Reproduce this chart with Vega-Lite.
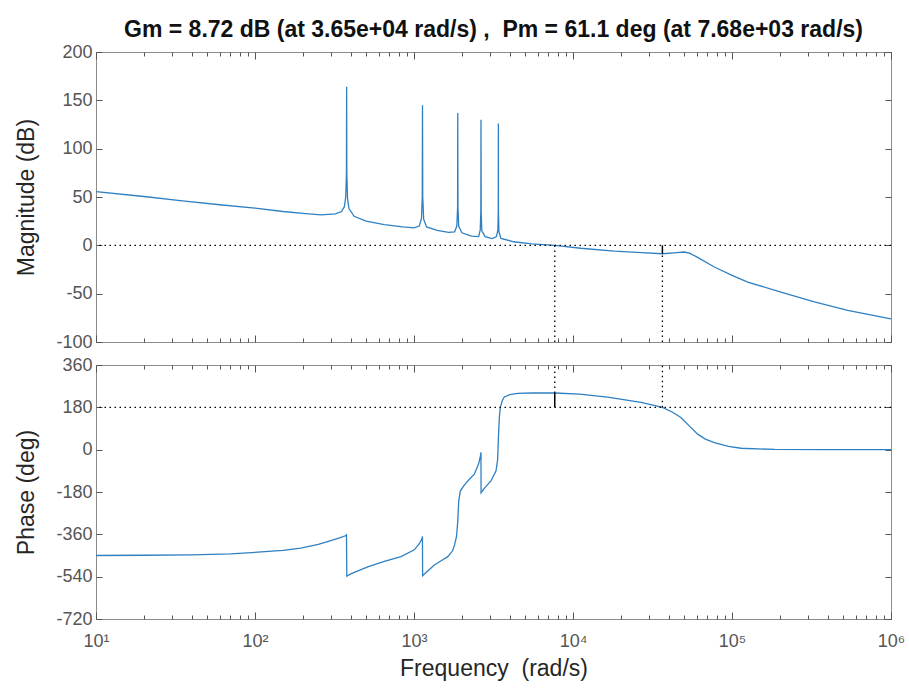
{
  "$schema": "https://vega.github.io/schema/vega-lite/v6.json",
  "background": "white",
  "padding": {"left": 15, "top": 18, "right": 5, "bottom": 5},
  "spacing": 3,
  "config": {
    "font": "Liberation Sans",
    "view": {"stroke": "#8c8c8c", "strokeWidth": 1},
    "axis": {
      "domain": false,
      "grid": false,
      "tickColor": "#555555",
      "tickWidth": 1,
      "labelColor": "#555555",
      "labelFont": "Liberation Sans",
      "labelFontSize": 18,
      "titleFont": "Liberation Sans",
      "titleFontSize": 23,
      "titleFontWeight": "normal",
      "titleColor": "#262626"
    }
  },
  "datasets": {
    "magnitude": [
      {"w": 10, "mag": 55.5}, {"w": 20, "mag": 50.5}, {"w": 35, "mag": 46}, {"w": 60, "mag": 42},
      {"w": 100, "mag": 38.5}, {"w": 150, "mag": 35}, {"w": 200, "mag": 33}, {"w": 260, "mag": 31.5},
      {"w": 320, "mag": 32.5}, {"w": 350, "mag": 35}, {"w": 365, "mag": 40}, {"w": 372, "mag": 50},
      {"w": 376, "mag": 75}, {"w": 377, "mag": 164}, {"w": 378, "mag": 75}, {"w": 382, "mag": 48},
      {"w": 390, "mag": 38}, {"w": 420, "mag": 30}, {"w": 500, "mag": 25}, {"w": 650, "mag": 21.5},
      {"w": 850, "mag": 19}, {"w": 1000, "mag": 18}, {"w": 1080, "mag": 20}, {"w": 1115, "mag": 28},
      {"w": 1127, "mag": 50}, {"w": 1131, "mag": 145}, {"w": 1135, "mag": 50}, {"w": 1150, "mag": 27},
      {"w": 1200, "mag": 19}, {"w": 1400, "mag": 15.5}, {"w": 1650, "mag": 13.5}, {"w": 1800, "mag": 14},
      {"w": 1860, "mag": 20}, {"w": 1880, "mag": 40}, {"w": 1885, "mag": 137}, {"w": 1890, "mag": 40},
      {"w": 1910, "mag": 20}, {"w": 2000, "mag": 13}, {"w": 2300, "mag": 9.5}, {"w": 2550, "mag": 9},
      {"w": 2610, "mag": 16}, {"w": 2632, "mag": 35}, {"w": 2639, "mag": 130}, {"w": 2646, "mag": 35},
      {"w": 2670, "mag": 15}, {"w": 2800, "mag": 9}, {"w": 3100, "mag": 7}, {"w": 3300, "mag": 9},
      {"w": 3370, "mag": 16}, {"w": 3388, "mag": 35}, {"w": 3393, "mag": 126}, {"w": 3398, "mag": 35},
      {"w": 3420, "mag": 14}, {"w": 3520, "mag": 7.2}, {"w": 4240, "mag": 3.7}, {"w": 5500, "mag": 1.5},
      {"w": 7680, "mag": 0}, {"w": 11200, "mag": -3}, {"w": 18200, "mag": -5.9}, {"w": 27000, "mag": -7.5},
      {"w": 36500, "mag": -8.7}, {"w": 45000, "mag": -7.5}, {"w": 50000, "mag": -6.9}, {"w": 54000, "mag": -8},
      {"w": 60000, "mag": -12}, {"w": 77400, "mag": -22.4}, {"w": 100000, "mag": -31}, {"w": 125600, "mag": -38},
      {"w": 203000, "mag": -48.3}, {"w": 330000, "mag": -58.6}, {"w": 534000, "mag": -67.3}, {"w": 1000000, "mag": -76}
    ],
    "phase": [
      {"w": 10, "phase": -450}, {"w": 20, "phase": -449}, {"w": 40, "phase": -447}, {"w": 70, "phase": -443},
      {"w": 104, "phase": -436}, {"w": 150, "phase": -428}, {"w": 194, "phase": -419}, {"w": 250, "phase": -403},
      {"w": 300, "phase": -387}, {"w": 340, "phase": -375}, {"w": 370, "phase": -366}, {"w": 376, "phase": -362},
      {"w": 378, "phase": -538}, {"w": 400, "phase": -528}, {"w": 512, "phase": -498}, {"w": 650, "phase": -475},
      {"w": 829, "phase": -455}, {"w": 1004, "phase": -426}, {"w": 1080, "phase": -400}, {"w": 1120, "phase": -380},
      {"w": 1130, "phase": -369}, {"w": 1133, "phase": -536}, {"w": 1200, "phase": -520}, {"w": 1343, "phase": -490},
      {"w": 1500, "phase": -470}, {"w": 1631, "phase": -455}, {"w": 1750, "phase": -430}, {"w": 1800, "phase": -405},
      {"w": 1850, "phase": -370}, {"w": 1885, "phase": -305}, {"w": 1910, "phase": -220}, {"w": 1955, "phase": -176},
      {"w": 2050, "phase": -155}, {"w": 2178, "phase": -133}, {"w": 2395, "phase": -104}, {"w": 2550, "phase": -60},
      {"w": 2620, "phase": -25}, {"w": 2638, "phase": -11}, {"w": 2641, "phase": -183}, {"w": 2800, "phase": -160},
      {"w": 3048, "phase": -133}, {"w": 3280, "phase": -90}, {"w": 3360, "phase": -40}, {"w": 3400, "phase": 60},
      {"w": 3443, "phase": 140}, {"w": 3493, "phase": 181}, {"w": 3600, "phase": 210}, {"w": 3700, "phase": 224},
      {"w": 4000, "phase": 234}, {"w": 4490, "phase": 239}, {"w": 5500, "phase": 241}, {"w": 7680, "phase": 241},
      {"w": 11000, "phase": 236}, {"w": 16500, "phase": 223}, {"w": 26800, "phase": 201}, {"w": 36500, "phase": 180},
      {"w": 42000, "phase": 160}, {"w": 47700, "phase": 137}, {"w": 54000, "phase": 100}, {"w": 60800, "phase": 66},
      {"w": 68000, "phase": 45}, {"w": 77400, "phase": 30}, {"w": 95000, "phase": 14}, {"w": 114000, "phase": 6},
      {"w": 185000, "phase": 1}, {"w": 400000, "phase": 0.2}, {"w": 1000000, "phase": 0}
    ],
    "magDotted": [{"w": 7680, "lo": -100, "hi": 0}, {"w": 36500, "lo": -100, "hi": -8.72}],
    "magSolid": [{"w": 36500, "lo": -8.72, "hi": 0}],
    "phaseDotted": [{"w": 7680, "lo": 241.1, "hi": 360}, {"w": 36500, "lo": 180, "hi": 360}],
    "phaseSolid": [{"w": 7680, "lo": 180, "hi": 241.1}]
  },
  "vconcat": [
    {
      "width": 795,
      "height": 290,
      "title": {
        "text": "Gm = 8.72 dB (at 3.65e+04 rad/s) , \u00a0Pm = 61.1 deg (at 7.68e+03 rad/s)",
        "font": "Liberation Sans",
        "fontSize": 23,
        "fontWeight": "bold",
        "color": "#111111",
        "anchor": "middle",
        "offset": 1
      },
      "resolve": {"axis": {"x": "independent", "y": "independent"}},
      "layer": [
        {
          "data": {"name": "magnitude"},
          "mark": {"type": "line", "color": "#2f80c2", "strokeWidth": 1.3},
          "encoding": {
            "x": {
              "field": "w", "type": "quantitative",
              "scale": {"type": "log", "domain": [10, 1000000], "nice": false},
              "axis": {
                "orient": "bottom", "title": null, "labels": false,
                "values": [10,20,30,40,50,60,70,80,90,100,200,300,400,500,600,700,800,900,1000,2000,3000,4000,5000,6000,7000,8000,9000,10000,20000,30000,40000,50000,60000,70000,80000,90000,100000,200000,300000,400000,500000,600000,700000,800000,900000,1000000],
                "tickSize": {"condition": {"test": "abs(log(datum.value)/LN10 - round(log(datum.value)/LN10)) < 0.001", "value": -7}, "value": -4}
              }
            },
            "y": {
              "field": "mag", "type": "quantitative",
              "scale": {"domain": [-100, 200], "nice": false, "zero": false},
              "axis": {"orient": "left", "values": [-100, -50, 0, 50, 100, 150, 200], "labelExpr": "'' + datum.value", "title": "Magnitude (dB)", "tickSize": -6, "labelPadding": 10, "titlePadding": 17}
            }
          }
        },
        {
          "data": {"name": "magDotted"},
          "mark": {"type": "rule", "color": "black", "strokeWidth": 1.3, "strokeDash": [1.5, 3.5]},
          "encoding": {
            "x": {
              "field": "w", "type": "quantitative",
              "axis": {
                "orient": "top", "title": null, "labels": false,
                "values": [10,20,30,40,50,60,70,80,90,100,200,300,400,500,600,700,800,900,1000,2000,3000,4000,5000,6000,7000,8000,9000,10000,20000,30000,40000,50000,60000,70000,80000,90000,100000,200000,300000,400000,500000,600000,700000,800000,900000,1000000],
                "tickSize": {"condition": {"test": "abs(log(datum.value)/LN10 - round(log(datum.value)/LN10)) < 0.001", "value": -7}, "value": -4}
              }
            },
            "y": {"field": "lo", "type": "quantitative", "axis": {"orient": "right", "title": null, "labels": false, "values": [-100, -50, 0, 50, 100, 150, 200], "tickSize": -6}},
            "y2": {"field": "hi"}
          }
        },
        {
          "data": {"name": "magSolid"},
          "mark": {"type": "rule", "color": "black", "strokeWidth": 1.5},
          "encoding": {
            "x": {"field": "w", "type": "quantitative", "axis": null},
            "y": {"field": "lo", "type": "quantitative", "axis": null},
            "y2": {"field": "hi"}
          }
        },
        {
          "data": {"values": [{"level": 0}]},
          "mark": {"type": "rule", "color": "black", "strokeWidth": 1.3, "strokeDash": [1.5, 3.5]},
          "encoding": {
            "y": {"field": "level", "type": "quantitative", "axis": null}
          }
        }
      ]
    },
    {
      "width": 795,
      "height": 254,
      "resolve": {"axis": {"x": "independent", "y": "independent"}},
      "layer": [
        {
          "data": {"name": "phase"},
          "mark": {"type": "line", "color": "#2f80c2", "strokeWidth": 1.3},
          "encoding": {
            "x": {
              "field": "w", "type": "quantitative",
              "scale": {"type": "log", "domain": [10, 1000000], "nice": false},
              "axis": {
                "orient": "bottom", "title": "Frequency \u00a0(rad/s)", "titlePadding": 4,
                "values": [10,20,30,40,50,60,70,80,90,100,200,300,400,500,600,700,800,900,1000,2000,3000,4000,5000,6000,7000,8000,9000,10000,20000,30000,40000,50000,60000,70000,80000,90000,100000,200000,300000,400000,500000,600000,700000,800000,900000,1000000],
                "labelExpr": "abs(log(datum.value)/LN10 - round(log(datum.value)/LN10)) < 0.001 ? '10' + ['⁰','¹','²','³','⁴','⁵','⁶'][round(log(datum.value)/LN10)] : ''",
                "labelOverlap": false, "labelFlush": false, "labelPadding": 20,
                "tickSize": {"condition": {"test": "abs(log(datum.value)/LN10 - round(log(datum.value)/LN10)) < 0.001", "value": -7}, "value": -4}
              }
            },
            "y": {
              "field": "phase", "type": "quantitative",
              "scale": {"domain": [-720, 360], "nice": false, "zero": false},
              "axis": {"orient": "left", "values": [-720, -540, -360, -180, 0, 180, 360], "labelExpr": "'' + datum.value", "title": "Phase (deg)", "tickSize": -6, "labelPadding": 10, "titlePadding": 17}
            }
          }
        },
        {
          "data": {"name": "phaseDotted"},
          "mark": {"type": "rule", "color": "black", "strokeWidth": 1.3, "strokeDash": [1.5, 3.5]},
          "encoding": {
            "x": {
              "field": "w", "type": "quantitative",
              "axis": {
                "orient": "top", "title": null, "labels": false,
                "values": [10,20,30,40,50,60,70,80,90,100,200,300,400,500,600,700,800,900,1000,2000,3000,4000,5000,6000,7000,8000,9000,10000,20000,30000,40000,50000,60000,70000,80000,90000,100000,200000,300000,400000,500000,600000,700000,800000,900000,1000000],
                "tickSize": {"condition": {"test": "abs(log(datum.value)/LN10 - round(log(datum.value)/LN10)) < 0.001", "value": -7}, "value": -4}
              }
            },
            "y": {"field": "lo", "type": "quantitative", "axis": {"orient": "right", "title": null, "labels": false, "values": [-720, -540, -360, -180, 0, 180, 360], "tickSize": -6}},
            "y2": {"field": "hi"}
          }
        },
        {
          "data": {"name": "phaseSolid"},
          "mark": {"type": "rule", "color": "black", "strokeWidth": 1.5},
          "encoding": {
            "x": {"field": "w", "type": "quantitative", "axis": null},
            "y": {"field": "lo", "type": "quantitative", "axis": null},
            "y2": {"field": "hi"}
          }
        },
        {
          "data": {"values": [{"level": 180}]},
          "mark": {"type": "rule", "color": "black", "strokeWidth": 1.3, "strokeDash": [1.5, 3.5]},
          "encoding": {
            "y": {"field": "level", "type": "quantitative", "axis": null}
          }
        }
      ]
    }
  ]
}
